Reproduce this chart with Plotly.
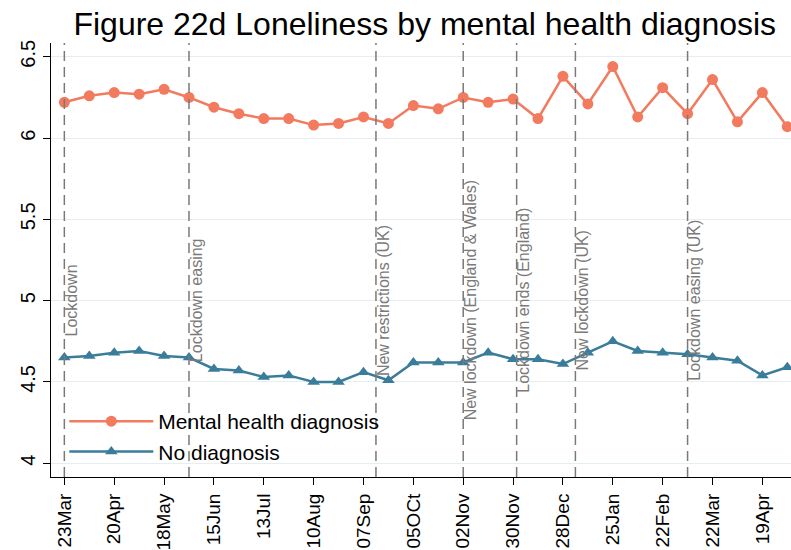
import plotly.graph_objects as go
import pandas as pd

# fortnightly survey waves
dates = pd.date_range("2020-03-23", periods=30, freq="14D")

mental_health = [6.22, 6.26, 6.28, 6.27, 6.30, 6.25, 6.19, 6.15, 6.12, 6.12,
                 6.08, 6.09, 6.13, 6.09, 6.20, 6.18, 6.25, 6.22, 6.24, 6.12,
                 6.38, 6.21, 6.44, 6.13, 6.31, 6.15, 6.36, 6.10, 6.28, 6.07]
no_diagnosis = [4.65, 4.66, 4.68, 4.69, 4.66, 4.65, 4.58, 4.57, 4.53, 4.54,
                4.50, 4.50, 4.56, 4.51, 4.62, 4.62, 4.62, 4.68, 4.64, 4.64,
                4.61, 4.68, 4.75, 4.69, 4.68, 4.67, 4.65, 4.63, 4.54, 4.59]

event_dates = ["2020-03-23", "2020-06-01", "2020-09-14", "2020-11-02",
               "2020-12-02", "2021-01-04", "2021-03-08"]
event_labels = ["Lockdown", "Lockdown easing", "New restrictions (UK)",
                "New lockdown (England & Wales)", "Lockdown ends (England)",
                "New lockdown (UK)", "Lockdown easing (UK)"]

tick_dates = pd.date_range("2020-03-23", periods=15, freq="28D")
tick_labels = ["23Mar", "20Apr", "18May", "15Jun", "13Jul", "10Aug", "07Sep",
               "05OCt", "02Nov", "30Nov", "28Dec", "25Jan", "22Feb", "22Mar",
               "19Apr"]

orange = "#F27A5E"
blue = "#3A7D9B"
grey = "#7A7A7A"
font = "Liberation Sans, Arial, sans-serif"

fig = go.Figure()

fig.add_trace(go.Scatter(
    x=dates, y=mental_health, name="Mental health diagnosis",
    mode="lines+markers", legendgroup="a",
    line=dict(color=orange, width=2.5),
    marker=dict(symbol="circle", size=11, color=orange)))

fig.add_trace(go.Scatter(
    x=dates, y=no_diagnosis, name="No diagnosis",
    mode="lines+markers", legendgroup="b",
    line=dict(color=blue, width=2.5),
    marker=dict(symbol="triangle-up", size=11, color=blue)))

# policy event lines + vertical labels
for d, lab in zip(event_dates, event_labels):
    fig.add_vline(x=d, line=dict(color=grey, width=1.5, dash="10px,6px"))
    fig.add_annotation(x=d, y=5, xref="x", yref="y", text=lab,
                       textangle=-90, showarrow=False, xanchor="left",
                       yanchor="middle", xshift=-3,
                       font=dict(family=font, size=16, color=grey))

fig.update_xaxes(
    range=["2020-03-15 12:00", "2021-05-05 02:00"],
    tickmode="array", tickvals=tick_dates, ticktext=tick_labels,
    tickangle=-90, ticks="outside", ticklen=7, tickcolor="black",
    ticklabelstandoff=1,
    tickfont=dict(family=font, size=19, color="black"),
    showline=True, linecolor="black", linewidth=1,
    showgrid=False, zeroline=False, automargin=False)

fig.update_yaxes(
    range=[3.915, 6.585],
    tickmode="array", tickvals=[4, 4.5, 5, 5.5, 6, 6.5],
    ticktext=["4", "4.5", "5", "5.5", "6", "6.5"],
    tickangle=-90, ticks="outside", ticklen=7, tickcolor="black",
    tickfont=dict(family=font, size=20, color="black"),
    showline=True, linecolor="black", linewidth=1,
    showgrid=True, gridcolor="#E6EFEF", gridwidth=1,
    zeroline=False, automargin=False)

fig.update_layout(
    width=791, height=550,
    margin=dict(l=51, r=0, t=43, b=73),
    paper_bgcolor="white", plot_bgcolor="white",
    title=dict(text="Figure 22d Loneliness by mental health diagnosis",
               x=0.537, xanchor="center", y=0.957, yanchor="middle",
               font=dict(family=font, size=32, color="black")),
    legend=dict(x=0.018, y=0.175, xanchor="left", yanchor="top",
                bgcolor="rgba(0,0,0,0)", traceorder="grouped",
                tracegroupgap=0, itemwidth=84,
                font=dict(family=font, size=21, color="black")),
    showlegend=True)

# drop the page's default 8px body margin so the figure sits at 0,0
fig.write_html("out.html", config={"displayModeBar": False},
               post_script="document.body.style.margin='0';")
